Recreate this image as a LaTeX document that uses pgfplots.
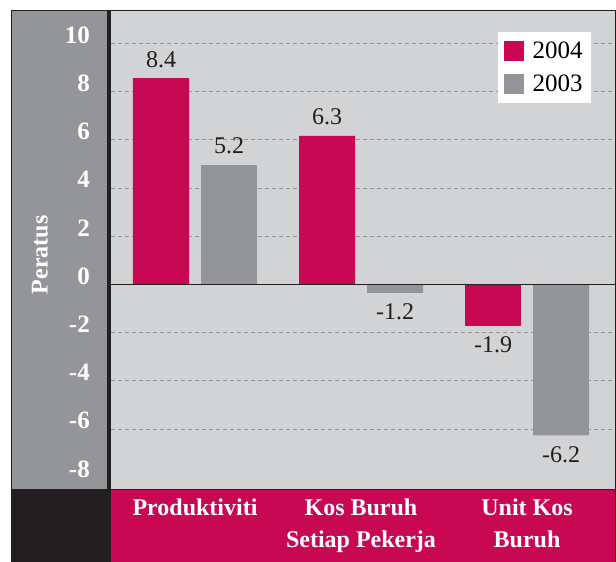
\documentclass[border=0pt]{standalone}
\usepackage{pgfplots}
\pgfplotsset{compat=1.18}
\usepackage{fontspec}
\setmainfont{Liberation Serif}
\definecolor{crim}{RGB}{200,8,82}
\definecolor{barg}{RGB}{147,149,152}
\definecolor{plotbg}{RGB}{209,211,212}
\definecolor{darkk}{RGB}{35,31,32}
\begin{document}
\begin{tikzpicture}
\useasboundingbox (-111pt,-73pt) rectangle (505pt,489pt);
\fill[barg] (-100pt,0pt) rectangle (-4pt,479pt);
\fill[darkk] (-4pt,0pt) rectangle (0pt,479pt);
\fill[darkk] (-100pt,-73pt) rectangle (0pt,0pt);
\fill[crim] (0pt,-73pt) rectangle (504pt,0pt);
\begin{axis}[
  at={(0pt,0pt)}, anchor=south west,
  scale only axis, width=504pt, height=479pt,
  xmin=-0.506, xmax=2.53, ymin=-8.49, ymax=11.38,
  axis background/.style={fill=plotbg},
  axis line style={draw=none},
  major tick length=0pt,
  ybar, bar width=56pt,
  xtick={0,1,2},
  xticklabels={Produktiviti,{Kos Buruh\\Setiap Pekerja},{Unit Kos\\Buruh}},
  xticklabel style={align=center, text=white, font=\bfseries\fontsize{24}{32}\selectfont, anchor=north, inner sep=0pt, yshift=-10pt},
  ytick={-6,-4,-2,0,2,4,6,8,10},
  yticklabels={-6,-4,-2,0,2,4,6,8,10},
  extra y ticks={-8}, extra y tick labels={-8},
  extra y tick style={grid=none},
  yticklabel style={text=white, font=\bfseries\fontsize{25}{25}\selectfont, anchor=base east, inner sep=0pt, xshift=-21pt},
  ymajorgrids,
  major grid style={barg, dash pattern=on 4pt off 3pt, line width=0.7pt},
  ylabel={Peratus},
  ylabel style={at={(axis description cs:-0.141,0.489)}, anchor=center, text=white, font=\bfseries\fontsize{24}{24}\selectfont},
  point meta=explicit symbolic,
  nodes near coords,
  nodes near coords style={font=\fontsize{24}{24}\selectfont, text=darkk, inner sep=10.5pt},
  legend style={at={(rel axis cs:0.952,0.954)}, anchor=north east, draw=none, fill=white, font=\fontsize{25}{25}\selectfont, inner xsep=6pt, inner ysep=8pt, row sep=11pt, column sep=7pt, nodes={inner xsep=2pt, inner ysep=2pt}},
  legend cell align=left,
  legend image code/.code={\fill[#1] (0pt,-10pt) rectangle (20pt,10pt);},
]
\addplot[fill=crim, draw=none, bar shift=-34pt, every node near coord/.append style={anchor=south}] coordinates {(0,8.55) [8.4] (1,6.16) [6.3]};
\addplot[fill=barg, draw=none, bar shift=34pt, every node near coord/.append style={anchor=south}] coordinates {(0,4.97) [5.2]};
\addplot[fill=crim, draw=none, bar shift=-34pt, forget plot, every node near coord/.append style={anchor=north}] coordinates {(2,-1.74) [-1.9]};
\addplot[fill=barg, draw=none, bar shift=34pt, forget plot, every node near coord/.append style={anchor=north}] coordinates {(1,-0.35) [-1.2] (2,-6.27) [-6.2]};
\legend{2004,2003}
\draw[darkk, line width=1.2pt] (axis cs:-0.506,0) -- (axis cs:2.53,0);
\end{axis}
\draw[darkk, line width=0.8pt] (-100pt,-73pt) rectangle (504pt,479pt);
\draw[darkk, line width=0.8pt] (0pt,0pt) -- (504pt,0pt);
\end{tikzpicture}
\end{document}
